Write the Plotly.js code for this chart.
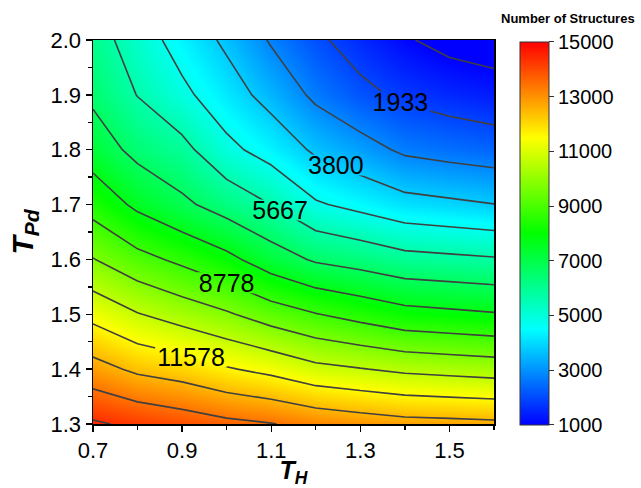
<!DOCTYPE html>
<html>
<head>
<meta charset="utf-8">
<script src="https://cdn.plot.ly/plotly-3.0.1.min.js"></script>
<style>html,body{margin:0;padding:0;background:#fff;}#chart{width:641px;height:488px;}</style>
</head>
<body>
<div id="chart"></div>
<script>
// Grid coordinates
var tH = [0.7, 0.8, 0.9, 1.0, 1.1, 1.2, 1.3, 1.4, 1.5, 1.6];
var tPd = [1.3, 1.4, 1.5, 1.6, 1.7, 1.8, 1.9, 2.0];

// Number of structures, one row per T_Pd value (1.3 ... 2.0)
var row13 = [14500, 14190, 13940, 13660, 13480, 13180, 12980, 12810, 12755, 12690];
var row14 = [12853, 12341, 12078, 11656, 11334, 10887, 10684, 10466, 10355, 10244];
var row15 = [11304, 10692, 10242, 9820, 9264, 8816, 8447, 8079, 7948, 7812];
var row16 = [9750, 9075, 8580, 8008, 7203, 6580, 6304, 5965, 5858, 5750];
var row17 = [8406, 7538, 6905, 6270, 5660, 4832, 4478, 4109, 3968, 3818];
var row18 = [7250, 6420, 5938, 4958, 4374, 3658, 3207, 2717, 2541, 2400];
var row19 = [6510, 5640, 4935, 4200, 3491, 2690, 2150, 1770, 1542, 1370];
var row20 = [6100, 5200, 4360, 3640, 2780, 2090, 1560, 1080, 746, 600];

// Contour levels
var labeledLevels = [1933, 3800, 5667, 8778, 11578];
var plainLevels = [1000, 2867, 4733, 6704, 7741, 9711, 10644, 12511, 13444, 14378];

// Colour bar ticks / axis ticks
var cbTicks = [1000, 3000, 5000, 7000, 9000, 11000, 13000, 15000];
var xTicks = [0.7, 0.9, 1.1, 1.3, 1.5];
var yTicks = [1.3, 1.4, 1.5, 1.6, 1.7, 1.8, 1.9, 2.0];

var z = [row13, row14, row15, row16, row17, row18, row19, row20];

// label placement (T_H where each labelled line carries its label)
var labelPlaceTH = {1933: 1.39, 3800: 1.245, 5667: 1.12, 8778: 1.0, 11578: 0.92};

var rainbow = [
  [0, 'rgb(0,0,255)'],
  [0.25, 'rgb(0,255,255)'],
  [0.5, 'rgb(0,255,0)'],
  [0.75, 'rgb(255,255,0)'],
  [1, 'rgb(255,0,0)']
];

var FONT = 'Liberation Sans, Arial, sans-serif';
var LABEL_SIZE = 25;

var traces = [];
traces.push({
  type: 'heatmap',
  x: tH, y: tPd, z: z,
  zsmooth: 'best',
  zmin: 1000, zmax: 15000,
  colorscale: rainbow,
  hoverinfo: 'skip',
  colorbar: {
    thickness: 29, thicknessmode: 'pixels',
    len: 383, lenmode: 'pixels',
    x: 1.065, xanchor: 'left', xpad: 0,
    y: 0.995, yanchor: 'top', ypad: 0,
    outlinewidth: 1, outlinecolor: '#333',
    tickvals: cbTicks,
    ticktext: cbTicks.map(String),
    ticks: 'outside', ticklen: 5, tickcolor: '#333', tickwidth: 1,
    tickfont: {family: FONT, size: 20, color: '#000'}
  }
});

function lineTrace(level, labeled, fsize) {
  return {
    type: 'contour',
    x: tH, y: tPd, z: z,
    autocontour: false,
    contours: {
      start: level, end: level, size: 1,
      coloring: 'none',
      showlabels: labeled,
      labelformat: 'd',
      labelfont: {family: FONT, size: fsize, color: '#000'}
    },
    line: {color: 'rgb(64,64,64)', width: 1.6, smoothing: 0},
    showscale: false,
    hoverinfo: 'skip'
  };
}
plainLevels.forEach(function (l) { traces.push(lineTrace(l, false, LABEL_SIZE)); });
labeledLevels.forEach(function (l, i) { traces.push(lineTrace(l, true, i === 0 ? 17 : 20)); });

var tickFont = {family: FONT, size: 22, color: '#000'};

var layout = {
  width: 641, height: 488,
  margin: {l: 93, r: 147, t: 40, b: 64},
  paper_bgcolor: '#fff', plot_bgcolor: '#fff',
  showlegend: false,
  xaxis: {
    range: [0.7, 1.6],
    tickvals: xTicks, ticktext: xTicks.map(function (v) { return v.toFixed(1); }),
    ticks: 'outside', ticklen: 6, tickwidth: 1.3, tickcolor: '#000',
    minor: {dtick: 0.1, tick0: 0.7, ticks: 'outside', ticklen: 4, tickcolor: '#000', tickwidth: 1.3},
    showline: true, mirror: true, linecolor: '#000', linewidth: 1.5,
    showgrid: false, zeroline: false,
    tickfont: tickFont,
    title: {text: '<b><i>T</i><sub><i>H</i></sub></b>', font: {family: FONT, size: 25, color: '#000'}, standoff: 7}
  },
  yaxis: {
    range: [1.3, 2.0],
    tickvals: yTicks, ticktext: yTicks.map(function (v) { return v.toFixed(1); }),
    ticks: 'outside', ticklen: 6, tickwidth: 1.3, tickcolor: '#000',
    minor: {dtick: 0.05, tick0: 1.3, ticks: 'outside', ticklen: 4, tickcolor: '#000', tickwidth: 1.3},
    showline: true, mirror: true, linecolor: '#000', linewidth: 1.5,
    showgrid: false, zeroline: false,
    tickfont: tickFont,
    title: {text: '<b><i>T</i><sub><i>Pd</i></sub></b>', font: {family: FONT, size: 30, color: '#000'}, standoff: 8}
  },
  annotations: [{
    text: '<b>Number of Structures</b>',
    xref: 'paper', yref: 'paper',
    x: 1.1845, y: 1.055, xanchor: 'center', yanchor: 'middle',
    showarrow: false,
    font: {family: FONT, size: 13, color: '#000'}
  }]
};

function pointOnPathsAtX(paths, xt) {
  for (var p = 0; p < paths.length; p++) {
    var path = paths[p];
    var len = path.getTotalLength();
    var prev = path.getPointAtLength(0);
    for (var s = 1; s <= len; s += 1) {
      var cur = path.getPointAtLength(Math.min(s, len));
      if ((prev.x - xt) * (cur.x - xt) <= 0 && prev.x !== cur.x) {
        var f = (xt - prev.x) / (cur.x - prev.x);
        return {x: xt, y: prev.y + f * (cur.y - prev.y)};
      }
      prev = cur;
    }
  }
  return null;
}

Plotly.newPlot('chart', traces, layout, {displayModeBar: false, staticPlot: true}).then(function (gd) {
  var xa = gd._fullLayout.xaxis;
  var groups = gd.querySelectorAll('g.contourlabels');
  groups.forEach(function (lg) {
    var traceGroup = lg.parentNode;
    var lines = traceGroup.querySelector('g.contourlines');
    var paths = traceGroup.querySelectorAll('g.contourlevel path');
    var texts = lg.querySelectorAll('text');
    if (!texts.length) return;
    var el = texts[0];
    for (var k = 1; k < texts.length; k++) texts[k].parentNode.removeChild(texts[k]);
    var level = parseInt(el.textContent, 10);
    var place = labelPlaceTH[level];
    var pt = place !== undefined ? pointOnPathsAtX(paths, xa.l2p(place)) : null;
    var d = el.__data__ || {};
    if (!pt) pt = {x: d.x, y: d.y};
    el.removeAttribute('transform');
    el.style.fontSize = LABEL_SIZE + 'px';
    el.setAttribute('text-anchor', 'middle');
    el.setAttribute('x', pt.x);
    el.setAttribute('y', pt.y + 0.36 * LABEL_SIZE);
    el.querySelectorAll('tspan').forEach(function (t) {
      if (t.hasAttribute('x')) t.setAttribute('x', pt.x);
    });
    var bb = el.getBBox();
    var hw = bb.width / 2 + 2, hh = 0.42 * LABEL_SIZE;
    // re-cut the gap in the line around the upright label
    var cp = lines ? lines.getAttribute('clip-path') : null;
    var m = cp ? cp.match(/#([^)'"]+)/) : null;
    var clipEl = m ? document.getElementById(m[1]) : null;
    if (clipEl) {
      var cpath = clipEl.querySelector('path');
      if (cpath) {
        var big = 'M-2000,-2000L4000,-2000L4000,4000L-2000,4000Z';
        var box = 'M' + (pt.x - hw) + ',' + (pt.y - hh) + 'L' + (pt.x + hw) + ',' + (pt.y - hh) +
                  'L' + (pt.x + hw) + ',' + (pt.y + hh) + 'L' + (pt.x - hw) + ',' + (pt.y + hh) + 'Z';
        cpath.setAttribute('d', big + box);
        cpath.setAttribute('clip-rule', 'evenodd');
      }
    }
  });
});
</script>
</body>
</html>
